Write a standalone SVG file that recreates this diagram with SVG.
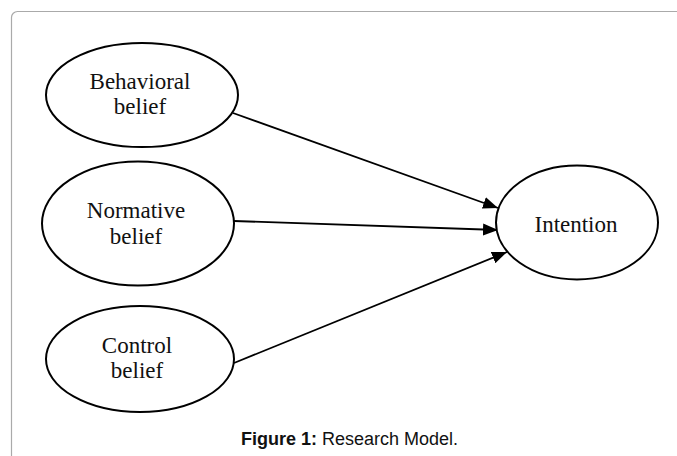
<svg xmlns="http://www.w3.org/2000/svg" width="677" height="456" viewBox="0 0 677 456">
<style>
.node{fill:#fff;stroke:#000;stroke-width:2}
.lbl{font-family:"Liberation Serif","Times New Roman",serif;font-size:23px;fill:#111;text-anchor:middle}
.edge{stroke:#000;stroke-width:1.8;fill:none}
.cap{font-family:"Liberation Sans",Arial,sans-serif;font-size:18px;fill:#111;text-anchor:middle}
</style>
<defs>
<marker id="arr" markerWidth="15" markerHeight="12" refX="15" refY="6" orient="auto" markerUnits="userSpaceOnUse" viewBox="0 0 15 12">
<path d="M0,0 L15,6 L0,12 z" fill="#000"/>
</marker>
</defs>
<rect x="11.5" y="11.5" width="700" height="470" rx="6" fill="#fff" stroke="#aaa" stroke-width="1.2"/>
<g id="connectors">
<line class="edge" x1="233" y1="113" x2="498" y2="208" marker-end="url(#arr)"/>
<line class="edge" x1="234" y1="221" x2="498" y2="230" marker-end="url(#arr)"/>
<line class="edge" x1="234" y1="363" x2="507" y2="252" marker-end="url(#arr)"/>
</g>
<g id="behavioral">
<ellipse class="node" cx="142" cy="95" rx="96" ry="52"/>
<text class="lbl" x="140" y="89">Behavioral</text>
<text class="lbl" x="140" y="114">belief</text>
</g>
<g id="normative">
<ellipse class="node" cx="138" cy="223.5" rx="96" ry="62"/>
<text class="lbl" x="136" y="218">Normative</text>
<text class="lbl" x="136" y="244">belief</text>
</g>
<g id="control">
<ellipse class="node" cx="140" cy="359" rx="94" ry="53"/>
<text class="lbl" x="137" y="353">Control</text>
<text class="lbl" x="137" y="378">belief</text>
</g>
<g id="intention">
<ellipse class="node" cx="577" cy="222.5" rx="81" ry="57"/>
<text class="lbl" x="576" y="232">Intention</text>
</g>
<text class="cap" x="349.5" y="445"><tspan font-weight="bold">Figure 1:</tspan> Research Model.</text>
</svg>
